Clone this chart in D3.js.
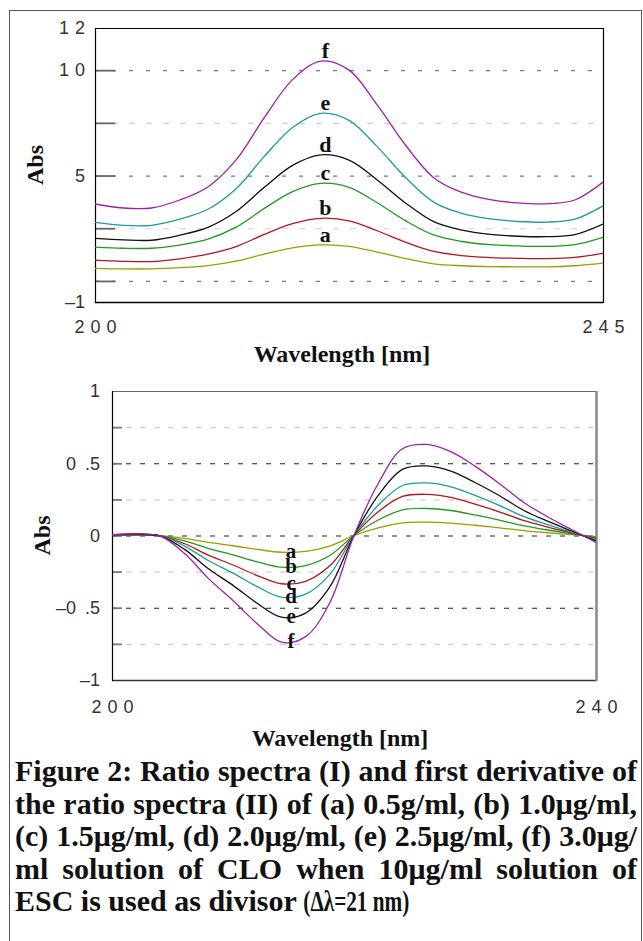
<!DOCTYPE html>
<html><head><meta charset="utf-8">
<script src="https://cdn.jsdelivr.net/npm/d3@7/dist/d3.min.js"></script>
<style>
html,body{margin:0;padding:0;background:#fff;}
svg{display:block;}
</style></head><body>
<svg id="c" width="643" height="941"></svg>
<script>
// ---------------- DATA ----------------
const seriesNames = ["a","b","c","d","e","f"];

// Panel I : ratio spectra
const wl1 = [200,202.5,205,207.5,210,212.5,215,217.5,220,222.5,225,227.5,230,232.5,235,237.5,240,242.5,245];
const ratioA = [0.60,0.57,0.57,0.63,0.73,0.94,1.27,1.57,1.71,1.64,1.37,1.06,0.81,0.72,0.68,0.67,0.67,0.72,0.84];
const ratioB = [0.99,0.93,0.92,1.05,1.27,1.63,2.21,2.72,2.97,2.85,2.38,1.84,1.40,1.20,1.11,1.07,1.06,1.12,1.31];
const ratioC = [1.60,1.55,1.55,1.70,1.98,2.55,3.44,4.24,4.63,4.44,3.71,2.86,2.18,1.87,1.72,1.66,1.64,1.72,2.07];
const ratioD = [2.02,1.95,1.93,2.17,2.54,3.29,4.44,5.48,5.98,5.73,4.79,3.70,2.81,2.41,2.21,2.12,2.10,2.20,2.70];
const ratioE = [2.78,2.64,2.64,2.93,3.40,4.37,5.91,7.28,7.95,7.62,6.37,4.91,3.74,3.20,2.94,2.82,2.79,2.93,3.56];
const ratioF = [3.65,3.46,3.46,3.84,4.46,5.74,7.75,9.55,10.43,10.00,8.35,6.45,4.90,4.20,3.86,3.70,3.66,3.84,4.69];

// Panel II : first derivative of ratio spectra
const wl2 = [200,202,204,206,208,210,212,214,216,218,220,222,224,226,228,230,232,234,236,238,240];
const derivA = [0.001,0.002,-0.001,-0.020,-0.048,-0.071,-0.096,-0.116,-0.110,-0.073,0.0,0.053,0.088,0.092,0.086,0.071,0.053,0.034,0.019,0.006,-0.008];
const derivB = [0.002,0.004,-0.002,-0.037,-0.090,-0.134,-0.182,-0.219,-0.208,-0.138,0.0,0.107,0.177,0.187,0.173,0.142,0.107,0.068,0.038,0.012,-0.014];
const derivC = [0.002,0.005,-0.002,-0.057,-0.137,-0.204,-0.277,-0.334,-0.317,-0.210,0.0,0.164,0.270,0.285,0.264,0.217,0.164,0.104,0.058,0.018,-0.022];
const derivD = [0.003,0.007,-0.003,-0.073,-0.175,-0.260,-0.354,-0.427,-0.406,-0.269,0.0,0.209,0.346,0.364,0.337,0.278,0.209,0.132,0.075,0.023,-0.028];
const derivE = [0.004,0.009,-0.004,-0.096,-0.232,-0.345,-0.469,-0.565,-0.537,-0.356,0.0,0.277,0.458,0.482,0.446,0.367,0.277,0.175,0.099,0.031,-0.037];
const derivF = [0.005,0.012,-0.005,-0.125,-0.300,-0.450,-0.610,-0.738,-0.700,-0.465,0.0,0.360,0.600,0.630,0.580,0.480,0.360,0.230,0.130,0.040,-0.048];

// axes
const yLabels1 = [12,10,5,-1];
const yGridMajor1 = [10,5,0];
const yGridMinor1 = [7.5,2.5];
const xLabels1 = [200,245];
const yLabels2 = [1,0.5,0,-0.5,-1];
const yGridMajor2 = [0.5,0,-0.5];
const yGridMinor2 = [0.75,0.25,-0.25,-0.75];
const xLabels2 = [200,240];
const xTitle = "Wavelength [nm]";
const yTitle = "Abs";

const captionLines = [
  "Figure 2: Ratio spectra (I) and first derivative of",
  "the ratio spectra (II) of (a) 0.5g/ml, (b) 1.0μg/ml,",
  "(c) 1.5μg/ml, (d) 2.0μg/ml, (e) 2.5μg/ml, (f) 3.0μg/",
  "ml solution of CLO when 10μg/ml solution of",
  "ESC is used as divisor"
];
const captionTail = "(Δλ=21 nm)";

// ---------------- DRAW ----------------
const svg = d3.select("#c");
const tickFont = "'Liberation Sans','Arimo',sans-serif";
const serif = "'Liberation Serif','DejaVu Serif',serif";
const LS = 6;

svg.append("rect").attr("x",9.5).attr("y",10.5).attr("width",632).attr("height",1000)
  .attr("fill","none").attr("stroke","#555").attr("stroke-width",1);

function drawPanel(cfg){
  const x = d3.scaleLinear().domain(cfg.xDomain).range(cfg.xRange);
  const y = d3.scaleLinear().domain(cfg.yDomain).range(cfg.yRange);
  const [xl,xr] = cfg.xRange, [yb,yt] = cfg.yRange;
  const w = xr-xl;
  const g = svg.append("g");

  g.append("g").attr("transform",`translate(${xl},0)`)
    .call(d3.axisLeft(y).tickValues(cfg.minor).tickSize(-w).tickFormat(""))
    .call(a=>a.select(".domain").remove())
    .selectAll("line").attr("stroke",cfg.minorColor).attr("stroke-dasharray",cfg.minorDash).attr("stroke-width",1.2);
  g.append("g").attr("transform",`translate(${xl},0)`)
    .call(d3.axisLeft(y).tickValues(cfg.major).tickSize(-w).tickFormat(""))
    .call(a=>a.select(".domain").remove())
    .selectAll("line").attr("stroke",cfg.majorColor).attr("stroke-dasharray",cfg.majorDash).attr("stroke-width",1.2);
  g.append("g").attr("transform",`translate(${xl},0)`)
    .call(d3.axisRight(y).tickValues(cfg.major.concat(cfg.minor)).tickSize(cfg.stub).tickFormat(""))
    .call(a=>a.select(".domain").remove())
    .selectAll("line").attr("stroke",cfg.stubColor).attr("stroke-width",1.8);

  g.append("line").attr("x1",xl).attr("x2",xr).attr("y1",yt+0.5).attr("y2",yt+0.5).attr("stroke",cfg.frameTop).attr("stroke-width",1.2);
  g.append("line").attr("x1",xl).attr("x2",xr).attr("y1",yb+0.5).attr("y2",yb+0.5).attr("stroke",cfg.frameBottom).attr("stroke-width",1.4);
  g.append("line").attr("x1",xl+0.5).attr("x2",xl+0.5).attr("y1",yt).attr("y2",yb+1).attr("stroke","#000").attr("stroke-width",1.2);
  g.append("line").attr("x1",xr+0.5).attr("x2",xr+0.5).attr("y1",yt).attr("y2",yb+1).attr("stroke",cfg.frameRight).attr("stroke-width",cfg.frameRightW);

  g.append("g").attr("transform",`translate(${xl},0)`)
    .call(d3.axisLeft(y).tickValues(cfg.yLabels).tickSize(0).tickPadding(cfg.yPad).tickFormat(cfg.fmt))
    .call(a=>a.select(".domain").remove())
    .selectAll("text").attr("font-family",tickFont).attr("font-size",18).attr("fill","#333")
    .attr("letter-spacing",d=>cfg.spaced(d)?LS:0).attr("dx",d=>cfg.spaced(d)?LS:0);
  g.append("g").attr("transform",`translate(0,${yb})`)
    .call(d3.axisBottom(x).tickValues(cfg.xLabels).tickSize(0).tickPadding(cfg.xPad).tickFormat(d=>String(d)))
    .call(a=>a.select(".domain").remove())
    .selectAll("text").attr("font-family",tickFont).attr("font-size",18).attr("fill","#333")
    .attr("letter-spacing",LS).attr("dx",LS/2);

  svg.append("text").attr("x",cfg.xTitleX).attr("y",cfg.xTitleY).attr("text-anchor","middle")
    .attr("font-family",serif).attr("font-weight","bold").attr("font-size",24).attr("fill","#111").text(xTitle);
  svg.append("text").attr("transform",`translate(${cfg.yTitleX},${(yb+yt)/2}) rotate(-90)`).attr("text-anchor","middle")
    .attr("font-family",serif).attr("font-weight","bold").attr("font-size",24).attr("fill","#111").text(yTitle);

  const clipId = "clip"+cfg.id;
  svg.append("clipPath").attr("id",clipId).append("rect").attr("x",xl).attr("y",yt).attr("width",w).attr("height",yb-yt);
  const line = d3.line().x(d=>x(d[0])).y(d=>y(d[1])).curve(d3.curveCatmullRom.alpha(0.5));
  const cg = svg.append("g").attr("clip-path",`url(#${clipId})`);
  cfg.series.forEach((vals,i)=>{
    const pts = cfg.wl.map((v,j)=>[v,vals[j]]);
    cg.append("path").attr("d",line(pts)).attr("fill","none").attr("stroke",cfg.colors[i]).attr("stroke-width",1.3);
  });
  cfg.series.forEach((vals,i)=>{
    const ext = cfg.labelAtMax ? d3.max(vals) : d3.min(vals);
    svg.append("text").attr("x",x(cfg.labelNm)).attr("y",y(ext)+cfg.labelDy)
      .attr("text-anchor","middle").attr("font-family",serif).attr("font-weight","bold")
      .attr("font-size",cfg.labelSize).attr("fill","#111").text(seriesNames[i]);
  });
}

drawPanel({
  id:1, xDomain:[200,245], xRange:[95,603], yDomain:[-1,12], yRange:[302,28],
  major:yGridMajor1, minor:yGridMinor1, majorColor:"#7a7a7a", majorDash:"4,13", minorColor:"#cfcfcf", minorDash:"6,11",
  stub:20, stubColor:"#666", frameTop:"#000", frameBottom:"#000", frameRight:"#000", frameRightW:1.2,
  yLabels:yLabels1, yPad:10, fmt:d=>d<0?"–"+Math.abs(d):String(d), spaced:d=>Math.abs(d)>=10,
  xLabels:xLabels1, xPad:18,
  xTitleX:342, xTitleY:362, yTitleX:43,
  wl:wl1, series:[ratioA,ratioB,ratioC,ratioD,ratioE,ratioF],
  colors:["#9c9c00","#b0191c","#1f9a1f","#111111","#1e9c9c","#a01fa8"],
  labelAtMax:true, labelNm:220.4, labelDy:-3, labelSize:22
});

drawPanel({
  id:2, xDomain:[200,240], xRange:[112,596], yDomain:[-1,1], yRange:[680,391],
  major:yGridMajor2, minor:yGridMinor2, majorColor:"#222", majorDash:"5,9", minorColor:"#cfcfcf", minorDash:"6,8",
  stub:10, stubColor:"#777", frameTop:"#666", frameBottom:"#333", frameRight:"#888", frameRightW:2.5,
  yLabels:yLabels2, yPad:12, fmt:d=>(d<0?"–":"")+String(Math.abs(d)).replace(".","\u2002."), spaced:d=>false,
  xLabels:xLabels2, xPad:20,
  xTitleX:340, xTitleY:746, yTitleX:50,
  wl:wl2, series:[derivA,derivB,derivC,derivD,derivE,derivF],
  colors:["#9c9c00","#1f9a1f","#b0191c","#1e9c9c","#111111","#a01fa8"],
  labelAtMax:false, labelNm:214.8, labelDy:6, labelSize:21
});

// caption (justified lines)
const capX = 15, capR = 637, capY0 = 781, capLH = 32.5, capSize = 30;
captionLines.forEach((ln,i)=>{
  const t = svg.append("text").attr("x",capX).attr("y",capY0+i*capLH)
    .attr("font-family",serif).attr("font-weight","bold").attr("font-size",capSize).attr("fill","#111");
  ln.split(/(μ)/).forEach(p=>{ if(p) t.append("tspan").text(p); });
  const nat = t.node().getComputedTextLength();
  if(i<captionLines.length-1){
    const spaces = (ln.match(/ /g)||[]).length;
    t.style("word-spacing",((capR-capX-nat)/spaces)+"px");
  } else {
    svg.append("text").attr("x",capX+nat+capSize*0.22).attr("y",capY0+i*capLH)
      .attr("font-family",serif).attr("font-weight","bold").attr("font-size",29).attr("fill","#111")
      .attr("textLength",106).attr("lengthAdjust","spacingAndGlyphs").text(captionTail);
  }
});
</script>
</body></html>
